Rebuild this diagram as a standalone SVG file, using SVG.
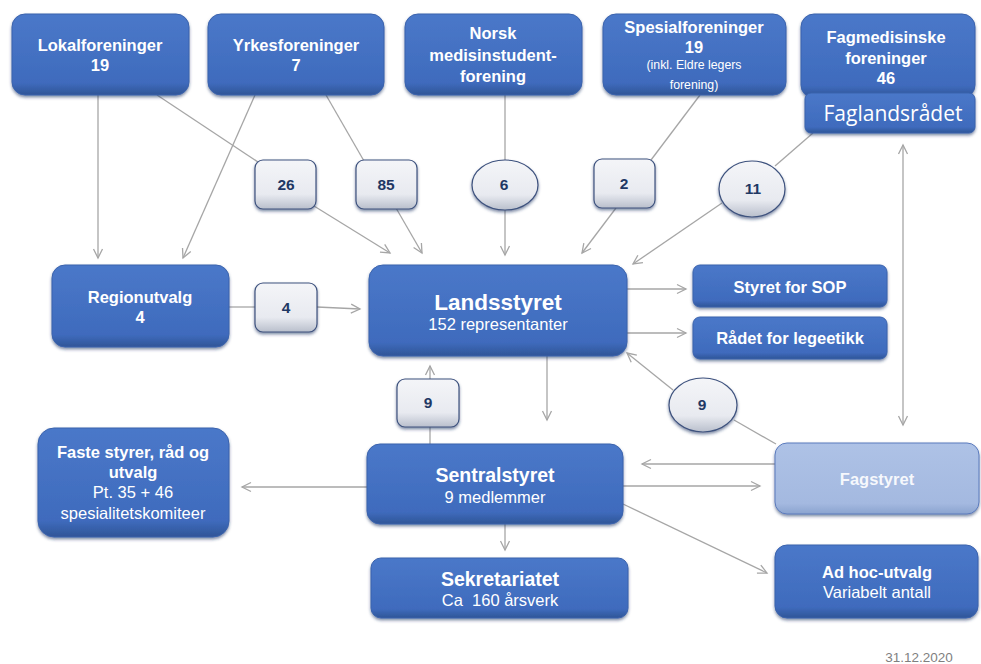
<svg xmlns="http://www.w3.org/2000/svg" width="981" height="664" viewBox="0 0 981 664">
<defs>
<linearGradient id="gBlue" x1="0" y1="0" x2="0" y2="1">
<stop offset="0" stop-color="#4a78c9"/>
<stop offset="0.85" stop-color="#3f6bbd"/>
<stop offset="1" stop-color="#2f5597"/>
</linearGradient>
<linearGradient id="gLight" x1="0" y1="0" x2="0" y2="1">
<stop offset="0" stop-color="#aec2e6"/>
<stop offset="0.85" stop-color="#a4b9e0"/>
<stop offset="1" stop-color="#8aa3cf"/>
</linearGradient>
<linearGradient id="gBadge" x1="0" y1="0" x2="0" y2="1">
<stop offset="0" stop-color="#f4f5f8"/>
<stop offset="0.7" stop-color="#e8eaf0"/>
<stop offset="1" stop-color="#b9bfcc"/>
</linearGradient>
<filter id="sh" x="-10%" y="-10%" width="120%" height="130%">
<feDropShadow dx="0" dy="2" stdDeviation="1.5" flood-color="#1f3864" flood-opacity="0.55"/>
</filter>
<marker id="arr" markerUnits="userSpaceOnUse" markerWidth="12" markerHeight="12" refX="10" refY="6" orient="auto-start-reverse">
<path d="M1,1.5 L10,6 L1,10.5" fill="none" stroke="#a6a6a6" stroke-width="1.3"/>
</marker>
<style>
.box{fill:url(#gBlue);stroke:#3b63ad;stroke-width:1;filter:url(#sh)}
.lbox{fill:url(#gLight);stroke:#5b7bbd;stroke-width:1;filter:url(#sh)}
.badge{fill:url(#gBadge);stroke:#3e527e;stroke-width:1.2;filter:url(#sh)}
.t{font-family:"Liberation Sans",Arial,sans-serif;fill:#fff;text-anchor:middle;font-size:16.5px}
.b{font-weight:bold}
.bt{font-family:"Liberation Sans",Arial,sans-serif;fill:#1f3864;font-weight:bold;font-size:15.5px;text-anchor:middle}
.c line,.c path{stroke:#a6a6a6;stroke-width:1.3;fill:none}
</style>
</defs>
<rect width="981" height="664" fill="#ffffff"/>

<g id="connectors" class="c">
<line x1="98" y1="95" x2="98" y2="258" marker-end="url(#arr)"/>
<line x1="157" y1="95" x2="258" y2="162"/>
<line x1="314" y1="206" x2="390" y2="253" marker-end="url(#arr)"/>
<line x1="255" y1="95" x2="183" y2="258" marker-end="url(#arr)"/>
<line x1="326" y1="95" x2="364" y2="161"/>
<line x1="396" y1="208" x2="422" y2="253" marker-end="url(#arr)"/>
<line x1="505" y1="95" x2="505" y2="160"/>
<line x1="505" y1="210" x2="505" y2="255" marker-end="url(#arr)"/>
<line x1="700" y1="95" x2="651" y2="160"/>
<line x1="616" y1="208" x2="582" y2="253" marker-end="url(#arr)"/>
<line x1="813" y1="133" x2="775" y2="166"/>
<line x1="722" y1="203" x2="633" y2="264" marker-end="url(#arr)"/>
<line x1="903" y1="145" x2="903" y2="425" marker-start="url(#arr)" marker-end="url(#arr)"/>
<line x1="229" y1="307" x2="255" y2="307"/>
<line x1="317" y1="307" x2="360" y2="309" marker-end="url(#arr)"/>
<line x1="627" y1="289" x2="686" y2="289" marker-end="url(#arr)"/>
<line x1="627" y1="333" x2="686" y2="333" marker-end="url(#arr)"/>
<line x1="547" y1="356" x2="547" y2="420" marker-end="url(#arr)"/>
<line x1="776" y1="444" x2="734" y2="420"/>
<line x1="673" y1="390" x2="627" y2="353" marker-end="url(#arr)"/>
<line x1="430" y1="444" x2="430" y2="427"/>
<line x1="430" y1="379" x2="430" y2="366" marker-end="url(#arr)"/>
<line x1="775" y1="464" x2="642" y2="464" marker-end="url(#arr)"/>
<line x1="623" y1="486" x2="760" y2="486" marker-end="url(#arr)"/>
<line x1="623" y1="504" x2="767" y2="573" marker-end="url(#arr)"/>
<line x1="367" y1="487" x2="242" y2="487" marker-end="url(#arr)"/>
<line x1="505" y1="524" x2="505" y2="550" marker-end="url(#arr)"/>
</g>

<g id="lokalforeninger">
<rect class="box" x="12" y="14" width="177" height="81" rx="13"/>
<text class="t b" x="100" y="51">Lokalforeninger</text>
<text class="t b" x="100" y="71">19</text>
</g>
<g id="yrkesforeninger">
<rect class="box" x="208" y="14" width="176" height="81" rx="13"/>
<text class="t b" x="296" y="51">Yrkesforeninger</text>
<text class="t b" x="296" y="71">7</text>
</g>
<g id="norsk">
<rect class="box" x="405" y="14" width="177" height="81" rx="13"/>
<text class="t b" x="493" y="39">Norsk</text>
<text class="t b" x="493" y="61">medisinstudent-</text>
<text class="t b" x="493" y="82">forening</text>
</g>
<g id="spesialforeninger">
<rect class="box" x="603" y="14" width="183" height="81" rx="13"/>
<text class="t b" x="694" y="33">Spesialforeninger</text>
<text class="t b" x="694" y="53">19</text>
<text class="t" font-size="12.3" x="694" y="69" style="font-size:12.3px">(inkl. Eldre  legers</text>
<text class="t" x="694" y="89" style="font-size:12.3px">forening)</text>
</g>
<g id="fagmedisinske">
<rect class="box" x="801" y="14" width="174" height="84" rx="13"/>
<rect class="box" x="805" y="93" width="170" height="40" rx="6"/>
<text class="t b" x="886" y="43">Fagmedisinske</text>
<text class="t b" x="886" y="64">foreninger</text>
<text class="t b" x="886" y="84">46</text>
<text x="893" y="121" font-family="'Open Sans','Noto Sans',sans-serif" font-size="21" fill="#fff" text-anchor="middle">Faglandsrådet</text>
</g>

<g id="b26"><rect class="badge" x="255" y="160" width="61" height="49" rx="8"/><text class="bt" x="286" y="190">26</text></g>
<g id="b85"><rect class="badge" x="356" y="160" width="61" height="49" rx="8"/><text class="bt" x="386" y="190">85</text></g>
<g id="b6"><ellipse class="badge" cx="505" cy="185" rx="33" ry="25"/><text class="bt" x="504" y="190">6</text></g>
<g id="b2"><rect class="badge" x="594" y="159" width="61" height="49" rx="8"/><text class="bt" x="624" y="189">2</text></g>
<g id="b11"><ellipse class="badge" cx="752" cy="189" rx="33" ry="28"/><text class="bt" x="753" y="194">11</text></g>
<g id="b4"><rect class="badge" x="255" y="283" width="62" height="49" rx="8"/><text class="bt" x="286" y="313">4</text></g>
<g id="b9r"><rect class="badge" x="397" y="379" width="62" height="48" rx="8"/><text class="bt" x="428" y="408">9</text></g>
<g id="b9e"><ellipse class="badge" cx="703" cy="405" rx="34" ry="27"/><text class="bt" x="702" y="410">9</text></g>

<g id="regionutvalg">
<rect class="box" x="52" y="265" width="177" height="82" rx="13"/>
<text class="t b" x="140" y="303">Regionutvalg</text>
<text class="t b" x="140" y="323">4</text>
</g>
<g id="landsstyret">
<rect class="box" x="369" y="265" width="258" height="91" rx="14"/>
<text class="t b" x="498" y="310" style="font-size:22.5px">Landsstyret</text>
<text class="t" x="498" y="330">152 representanter</text>
</g>
<g id="sop">
<rect class="box" x="693" y="265" width="194" height="42" rx="7"/>
<text class="t b" x="790" y="293">Styret for SOP</text>
</g>
<g id="legeetikk">
<rect class="box" x="693" y="317" width="194" height="42" rx="7"/>
<text class="t b" x="790" y="344">Rådet for legeetikk</text>
</g>
<g id="faste">
<rect class="box" x="38" y="428" width="191" height="109" rx="16"/>
<text class="t b" x="133" y="458">Faste styrer, råd og</text>
<text class="t b" x="133" y="478">utvalg</text>
<text class="t" x="133" y="498">Pt. 35 + 46</text>
<text class="t" x="133" y="519">spesialitetskomiteer</text>
</g>
<g id="sentralstyret">
<rect class="box" x="367" y="444" width="256" height="80" rx="13"/>
<text class="t b" x="495" y="482" style="font-size:19.5px">Sentralstyret</text>
<text class="t" x="495" y="503">9 medlemmer</text>
</g>
<g id="sekretariatet">
<rect class="box" x="371" y="558" width="257" height="60" rx="10"/>
<text class="t b" x="500" y="586" style="font-size:19.5px">Sekretariatet</text>
<text class="t" x="500" y="606" xml:space="preserve">Ca  160 årsverk</text>
</g>
<g id="fagstyret">
<rect class="lbox" x="775" y="443" width="204" height="71" rx="12"/>
<text class="t b" x="877" y="485" fill-opacity="0.92">Fagstyret</text>
</g>
<g id="adhoc">
<rect class="box" x="775" y="545" width="203" height="73" rx="12"/>
<text class="t b" x="877" y="578">Ad hoc-utvalg</text>
<text class="t" x="877" y="598">Variabelt antall</text>
</g>
<text x="919" y="662" font-family="'Liberation Sans',Arial,sans-serif" font-size="13.5" fill="#7f7f7f" text-anchor="middle">31.12.2020</text>
</svg>
